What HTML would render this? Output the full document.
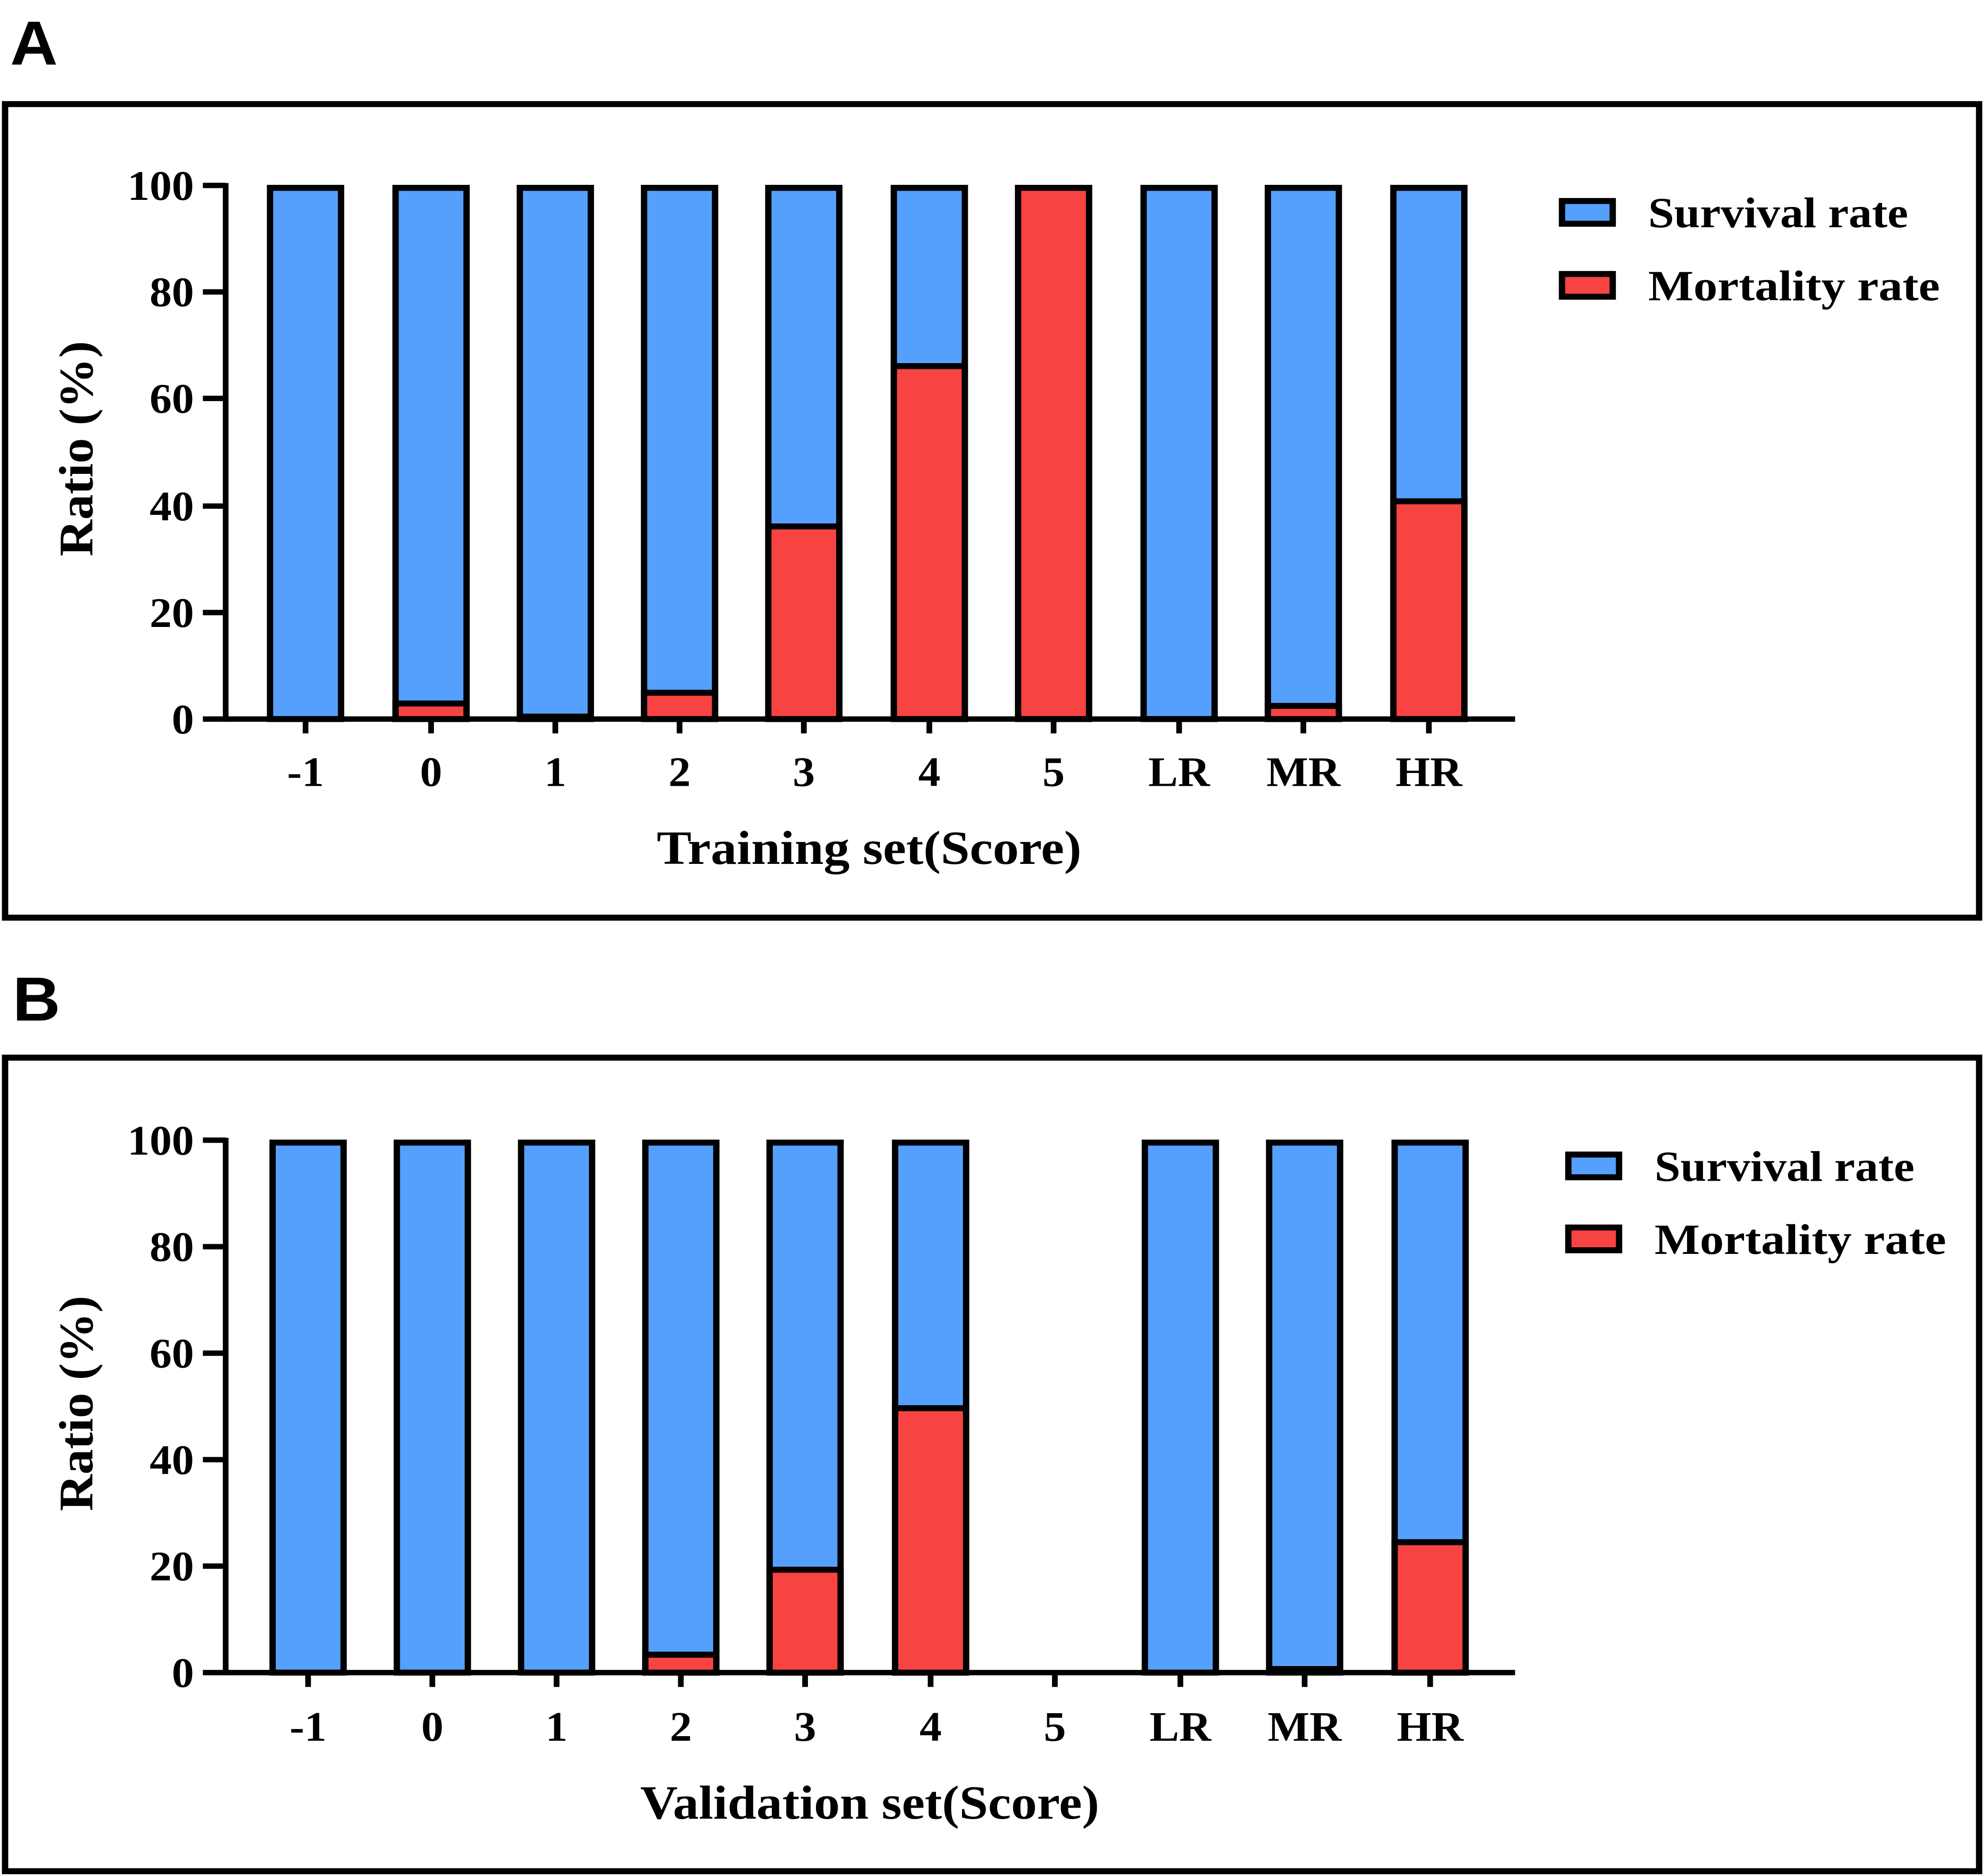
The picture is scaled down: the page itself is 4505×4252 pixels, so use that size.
<!DOCTYPE html>
<html><head><meta charset="utf-8"><style>html,body{margin:0;padding:0;background:#fff}svg{display:block}</style></head><body>
<svg width="4505" height="4252" viewBox="0 0 1568 1568" preserveAspectRatio="none" xmlns="http://www.w3.org/2000/svg" font-family="Liberation Serif, serif" font-weight="bold">
<rect width="1568" height="1568" fill="#fff"/>
<!-- Panel A -->
<text x="8" y="54" font-family="Liberation Sans, sans-serif" font-size="52" font-weight="bold">A</text>
<rect x="4" y="87" width="1557" height="680" fill="none" stroke="#000" stroke-width="5"/>
<g stroke="#000" stroke-width="4.5">
<line x1="178" y1="153" x2="178" y2="603"/>
<line x1="176" y1="601" x2="1195" y2="601"/>
<line x1="160" y1="155" x2="178" y2="155"/><line x1="160" y1="244" x2="178" y2="244"/><line x1="160" y1="333" x2="178" y2="333"/><line x1="160" y1="423" x2="178" y2="423"/><line x1="160" y1="512" x2="178" y2="512"/><line x1="160" y1="601" x2="178" y2="601"/>
<line x1="241" y1="601" x2="241" y2="613"/><line x1="340" y1="601" x2="340" y2="613"/><line x1="438" y1="601" x2="438" y2="613"/><line x1="536" y1="601" x2="536" y2="613"/><line x1="634" y1="601" x2="634" y2="613"/><line x1="733" y1="601" x2="733" y2="613"/><line x1="831" y1="601" x2="831" y2="613"/><line x1="930" y1="601" x2="930" y2="613"/><line x1="1028" y1="601" x2="1028" y2="613"/><line x1="1127" y1="601" x2="1127" y2="613"/>
</g>
<g stroke="#000" stroke-width="5">
<rect x="213" y="157" width="56" height="444" fill="#55A0FC"/>
<rect x="312" y="157" width="56" height="444" fill="#55A0FC"/><rect x="312" y="588" width="56" height="13" fill="#F84343"/>
<rect x="410" y="157" width="56" height="444" fill="#55A0FC"/><line x1="410" y1="599" x2="466" y2="599"/>
<rect x="508" y="157" width="56" height="444" fill="#55A0FC"/><rect x="508" y="579" width="56" height="22" fill="#F84343"/>
<rect x="606" y="157" width="56" height="444" fill="#55A0FC"/><rect x="606" y="440" width="56" height="161" fill="#F84343"/>
<rect x="705" y="157" width="56" height="444" fill="#55A0FC"/><rect x="705" y="306" width="56" height="295" fill="#F84343"/>
<rect x="803" y="157" width="56" height="444" fill="#F84343"/>
<rect x="902" y="157" width="56" height="444" fill="#55A0FC"/>
<rect x="1000" y="157" width="56" height="444" fill="#55A0FC"/><rect x="1000" y="590" width="56" height="11" fill="#F84343"/>
<rect x="1099" y="157" width="56" height="444" fill="#55A0FC"/><rect x="1099" y="419" width="56" height="182" fill="#F84343"/>
</g>
<g font-size="35" text-anchor="end">
<text x="153" y="167">100</text><text x="153" y="256">80</text><text x="153" y="345">60</text><text x="153" y="435">40</text><text x="153" y="524">20</text><text x="153" y="613">0</text>
</g>
<g font-size="35" text-anchor="middle">
<text x="241" y="657">-1</text><text x="340" y="657">0</text><text x="438" y="657">1</text><text x="536" y="657">2</text><text x="634" y="657">3</text><text x="733" y="657">4</text><text x="831" y="657">5</text><text x="930" y="657">LR</text><text x="1028" y="657">MR</text><text x="1127" y="657">HR</text>
</g>
<text x="518" y="722" font-size="40" textLength="335" lengthAdjust="spacingAndGlyphs">Training set(Score)</text>
<text transform="translate(73,375) rotate(-90)" font-size="38" text-anchor="middle" textLength="180" lengthAdjust="spacingAndGlyphs">Ratio (%)</text>
<rect x="1232" y="168" width="40" height="19" fill="#55A0FC" stroke="#000" stroke-width="5"/>
<rect x="1232" y="229" width="40" height="19" fill="#F84343" stroke="#000" stroke-width="5"/>
<text x="1300" y="190" font-size="36" textLength="205" lengthAdjust="spacingAndGlyphs">Survival rate</text>
<text x="1300" y="251" font-size="36" textLength="230" lengthAdjust="spacingAndGlyphs">Mortality rate</text>
<!-- Panel B -->
<text x="10" y="853" font-family="Liberation Sans, sans-serif" font-size="52" font-weight="bold">B</text>
<rect x="4" y="884" width="1557" height="680" fill="none" stroke="#000" stroke-width="5"/>
<g stroke="#000" stroke-width="4.5">
<line x1="178" y1="951" x2="178" y2="1400"/>
<line x1="176" y1="1398" x2="1195" y2="1398"/>
<line x1="160" y1="953" x2="178" y2="953"/><line x1="160" y1="1042" x2="178" y2="1042"/><line x1="160" y1="1131" x2="178" y2="1131"/><line x1="160" y1="1220" x2="178" y2="1220"/><line x1="160" y1="1309" x2="178" y2="1309"/><line x1="160" y1="1398" x2="178" y2="1398"/>
<line x1="243" y1="1398" x2="243" y2="1410"/><line x1="341" y1="1398" x2="341" y2="1410"/><line x1="439" y1="1398" x2="439" y2="1410"/><line x1="537" y1="1398" x2="537" y2="1410"/><line x1="635" y1="1398" x2="635" y2="1410"/><line x1="734" y1="1398" x2="734" y2="1410"/><line x1="832" y1="1398" x2="832" y2="1410"/><line x1="931" y1="1398" x2="931" y2="1410"/><line x1="1029" y1="1398" x2="1029" y2="1410"/><line x1="1128" y1="1398" x2="1128" y2="1410"/>
</g>
<g stroke="#000" stroke-width="5">
<rect x="215" y="955" width="56" height="443" fill="#55A0FC"/>
<rect x="313" y="955" width="56" height="443" fill="#55A0FC"/>
<rect x="411" y="955" width="56" height="443" fill="#55A0FC"/>
<rect x="509" y="955" width="56" height="443" fill="#55A0FC"/><rect x="509" y="1383" width="56" height="15" fill="#F84343"/>
<rect x="607" y="955" width="56" height="443" fill="#55A0FC"/><rect x="607" y="1312" width="56" height="86" fill="#F84343"/>
<rect x="706" y="955" width="56" height="443" fill="#55A0FC"/><rect x="706" y="1177" width="56" height="221" fill="#F84343"/>
<rect x="903" y="955" width="56" height="443" fill="#55A0FC"/>
<rect x="1001" y="955" width="56" height="443" fill="#55A0FC"/><line x1="1001" y1="1395" x2="1057" y2="1395"/>
<rect x="1100" y="955" width="56" height="443" fill="#55A0FC"/><rect x="1100" y="1289" width="56" height="109" fill="#F84343"/>
</g>
<g font-size="35" text-anchor="end">
<text x="153" y="965">100</text><text x="153" y="1054">80</text><text x="153" y="1143">60</text><text x="153" y="1232">40</text><text x="153" y="1321">20</text><text x="153" y="1410">0</text>
</g>
<g font-size="35" text-anchor="middle">
<text x="243" y="1455">-1</text><text x="341" y="1455">0</text><text x="439" y="1455">1</text><text x="537" y="1455">2</text><text x="635" y="1455">3</text><text x="734" y="1455">4</text><text x="832" y="1455">5</text><text x="931" y="1455">LR</text><text x="1029" y="1455">MR</text><text x="1128" y="1455">HR</text>
</g>
<text x="505" y="1520" font-size="40" textLength="362" lengthAdjust="spacingAndGlyphs">Validation set(Score)</text>
<text transform="translate(73,1173) rotate(-90)" font-size="38" text-anchor="middle" textLength="180" lengthAdjust="spacingAndGlyphs">Ratio (%)</text>
<rect x="1237" y="965" width="40" height="19" fill="#55A0FC" stroke="#000" stroke-width="5"/>
<rect x="1237" y="1026" width="40" height="19" fill="#F84343" stroke="#000" stroke-width="5"/>
<text x="1305" y="987" font-size="36" textLength="205" lengthAdjust="spacingAndGlyphs">Survival rate</text>
<text x="1305" y="1048" font-size="36" textLength="230" lengthAdjust="spacingAndGlyphs">Mortality rate</text>
</svg>
</body></html>
